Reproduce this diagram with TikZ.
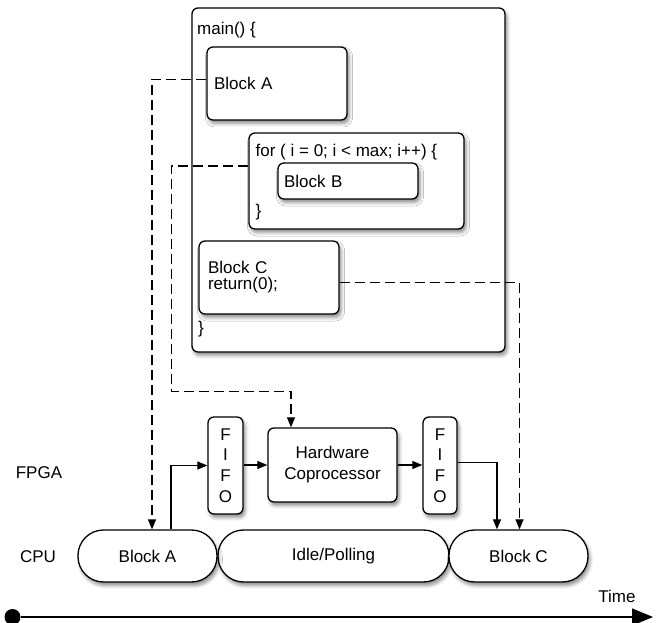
\documentclass[tikz,border=0pt]{standalone}
\usepackage{fontspec}
\setmainfont{Liberation Sans}
\usetikzlibrary{arrows.meta,calc,shadows.blur}
\begin{document}
\begin{tikzpicture}[x=1pt,y=-1pt,
  font=\fontsize{17}{20}\selectfont,
  soft/.style={blur shadow={shadow xshift=2pt,shadow yshift=-3.5pt,shadow blur radius=3.5pt,shadow opacity=45}},
  box/.style={draw,line width=1.3pt,rounded corners=6pt,fill=white,inner sep=0pt,soft},
  pill/.style={draw,line width=1.3pt,rounded corners=25.5pt,fill=white,inner sep=0pt,
    minimum height=52pt,soft},
  txt/.style={inner sep=0pt,anchor=west},
  flow/.style={line width=1.2pt,-{Triangle[length=10pt,width=8pt]}},
  link/.style={line width=1.2pt,dash pattern=on 10pt off 5pt,-{Triangle[length=10pt,width=8pt]}},
]
\useasboundingbox (0,0) rectangle (657,623);

% program listing
\node[box,minimum width=313pt,minimum height=344pt] (main) at (348.5,180) {};
\node[txt] (mainopen) at (197,30) {main() \{};
\node[txt] (mainclose) at (198,329.5) {\}};

\node[box,minimum width=140pt,minimum height=73pt,text width=126pt,align=left]
  (blka) at (277,83.5) {Block A};

\node[box,minimum width=215pt,minimum height=96pt] (forb) at (356.5,181) {};
\node[txt] (foropen) at (255.5,151.7) {for ( i = 0; i < max; i++) \{};
\node[txt] (forclose) at (255.5,212.3) {\}};
\node[box,minimum width=140pt,minimum height=36pt,text width=128pt,align=left]
  (blkb) at (348,181) {Block B};

\node[box,minimum width=140pt,minimum height=73pt,text width=122pt,align=left,
  font=\fontsize{17}{16}\selectfont]
  (blkc) at (269,277.5) {Block C\\return(0);};

% FPGA row
\node[box,minimum width=35pt,minimum height=97pt,align=center,
  font=\fontsize{17}{20.7}\selectfont] (fifoa) at (225.5,465.5) {F\\I\\F\\O};
\node[box,minimum width=129pt,minimum height=74pt,align=center,
  font=\fontsize{17}{21}\selectfont] (hw) at (332.5,465) {Hardware\\Coprocessor};
\node[box,minimum width=34pt,minimum height=97pt,align=center,
  font=\fontsize{17}{20.7}\selectfont] (fifob) at (440,465.5) {F\\I\\F\\O};

% CPU row
\node[pill,minimum width=231pt] (idle) at (333.5,556) {Idle/Polling};
\node[pill,minimum width=139pt] (cpua) at (147.5,556) {Block A};
\node[pill,minimum width=139pt] (cpuc) at (518.5,556) {Block C};

% row labels
\node (fpga) at (39,473) {FPGA};
\node (cpu) at (38,557) {CPU};
\node (time) at (617,596) {Time};

% data flow
\draw[flow] ($(cpua.north)+(23.5,0)$) |- (fifoa.west);
\draw[flow] (fifoa.east |- hw.west) -- (hw.west);
\draw[flow] (hw.east) -- (hw.east -| fifob.west);
\draw[flow] ($(fifob.east)+(0,-3)$) -| ($(cpuc.north)+(-21.5,0)$);

% mapping of code blocks
\draw[link] ($(blka.west)+(0,-4)$) -| ($(cpua.north)+(4.5,0)$);
\draw[link] ($(forb.west)+(0,-15)$) -- ++(-77,0) |- ($(hw.north)+(-41.5,-36)$)
  -- ($(hw.north)+(-41.5,0)$);
\draw[link] ($(blkc.east)+(0,5)$) -| ($(cpuc.north)+(1,0)$);

% time axis
\node[circle,fill,inner sep=0pt,minimum size=16pt] (t0) at (12.5,617) {};
\coordinate (t1) at (653,617);
\draw[line width=1.4pt,-{Triangle[length=21pt,width=17pt]}] (t0) -- (t1);
\end{tikzpicture}
\end{document}
